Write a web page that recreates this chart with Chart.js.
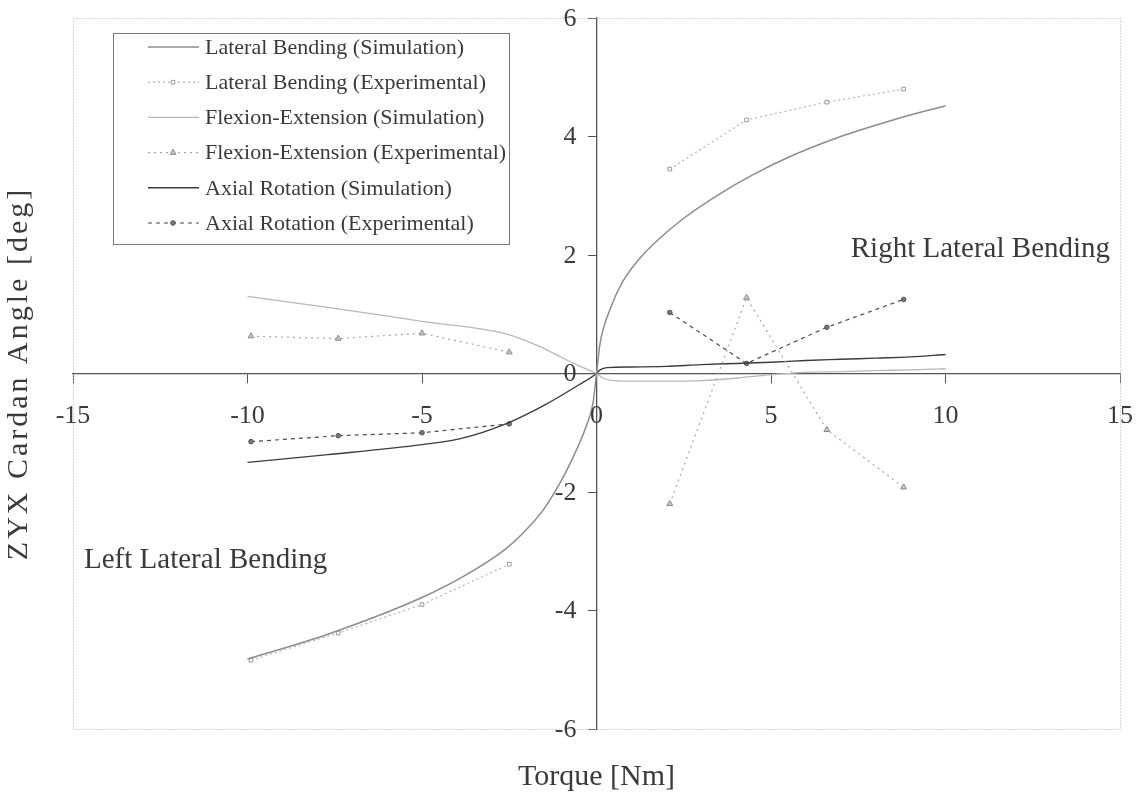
<!DOCTYPE html>
<html>
<head>
<meta charset="utf-8">
<title>ZYX Cardan Angle vs Torque</title>
<script src="https://cdn.jsdelivr.net/npm/chart.js@4.4.1/dist/chart.umd.min.js"></script>
<style>
  html, body { margin: 0; padding: 0; background: #ffffff; }
  #wrap { width: 1139px; height: 801px; position: relative; }
</style>
</head>
<body>
<div id="wrap"><canvas id="c" width="1139" height="801"></canvas></div>
<script>
// ---- Simulation curves (torque in Nm, angle in deg) ----
const lbSimTorque = [-10, -7.7, -5, -3.8, -2.6, -2.0, -1.5, -1.0, -0.7, -0.3, -0.1, 0, 0.1, 0.4, 0.75, 1.25, 1.75, 2.5, 3.5, 4.5, 5.5, 7, 8.5, 10];
const lbSimAngle  = [-4.82, -4.4, -3.78, -3.42, -2.96, -2.63, -2.28, -1.8, -1.45, -0.9, -0.5, 0, 0.5, 1.1, 1.55, 1.95, 2.25, 2.62, 3.02, 3.36, 3.65, 4.0, 4.28, 4.52];

const feSimTorque = [-10, -7.5, -5, -2.6, -1.6, -1, -0.5, 0, 0.2, 0.5, 1, 2, 3, 4, 5, 6, 7, 8, 9, 10];
const feSimAngle  = [1.3, 1.1, 0.88, 0.67, 0.45, 0.27, 0.13, 0, -0.08, -0.12, -0.13, -0.13, -0.12, -0.08, -0.02, 0.02, 0.03, 0.05, 0.06, 0.08];

const arSimTorque = [-10, -7.7, -5, -3.9, -2.6, -1.45, -0.5, 0, 0.1, 0.3, 1, 2, 3, 4, 5, 6, 7, 8, 9, 10];
const arSimAngle  = [-1.5, -1.37, -1.2, -1.1, -0.85, -0.52, -0.19, 0, 0.06, 0.1, 0.11, 0.12, 0.15, 0.17, 0.19, 0.22, 0.24, 0.26, 0.28, 0.32];

// ---- Experimental measurements (left / right loading) ----
const expTorqueNeg = [-9.9, -7.4, -5.0, -2.5];
const expTorquePos = [2.1, 4.3, 6.6, 8.8];

const lbExpNeg = [-4.84, -4.38, -3.9, -3.22];
const lbExpPos = [3.45, 4.28, 4.58, 4.80];

const feExpNeg = [0.63, 0.59, 0.68, 0.36];
const feExpPos = [-2.2, 1.28, -0.95, -1.92];

const arExpNeg = [-1.15, -1.05, -1.0, -0.85];
const arExpPos = [1.03, 0.17, 0.78, 1.25];

// ---- Axis ticks ----
const torqueTicks = [-15, -10, -5, 0, 5, 10, 15];
const angleTicks  = [-6, -4, -2, 0, 2, 4, 6];

const seriesNames = [
  'Lateral Bending (Simulation)',
  'Lateral Bending (Experimental)',
  'Flexion-Extension (Simulation)',
  'Flexion-Extension (Experimental)',
  'Axial Rotation (Simulation)',
  'Axial Rotation (Experimental)'
];

const SERIF = '"Liberation Serif", "Times New Roman", serif';
const TEXT_COLOR = '#3a3a3a';

function pts(xs, ys) { return xs.map((x, i) => ({ x: x, y: ys[i] })); }
function expPts(neg, pos) {
  // the two loading directions are drawn as separate segments
  return pts(expTorqueNeg, neg).concat([{ x: 0, y: null }], pts(expTorquePos, pos));
}

const simStyle = (color, width) => ({
  showLine: true, borderColor: color, backgroundColor: color, borderWidth: width,
  pointRadius: 0, pointHoverRadius: 0, cubicInterpolationMode: 'monotone', fill: false
});

const datasets = [
  Object.assign({ label: seriesNames[0], data: pts(lbSimTorque, lbSimAngle) }, simStyle('#8c8c8c', 1.5)),
  { label: seriesNames[1], data: expPts(lbExpNeg, lbExpPos), showLine: true, spanGaps: false,
    borderColor: '#b4b4b4', borderWidth: 1.2, borderDash: [2, 3],
    pointStyle: 'rect', pointRadius: 2.6, pointBorderColor: '#9a9a9a', pointBackgroundColor: '#ffffff', pointBorderWidth: 1 },
  Object.assign({ label: seriesNames[2], data: pts(feSimTorque, feSimAngle) }, simStyle('#b8b8b8', 1.3)),
  { label: seriesNames[3], data: expPts(feExpNeg, feExpPos), showLine: true, spanGaps: false,
    borderColor: '#a8a8a8', borderWidth: 1.2, borderDash: [2, 4],
    pointStyle: 'triangle', pointRadius: 3.4, pointBorderColor: '#8a8a8a', pointBackgroundColor: '#c8c8c8', pointBorderWidth: 1 },
  Object.assign({ label: seriesNames[4], data: pts(arSimTorque, arSimAngle) }, simStyle('#3c3c3c', 1.4)),
  { label: seriesNames[5], data: expPts(arExpNeg, arExpPos), showLine: true, spanGaps: false,
    borderColor: '#4a4a4a', borderWidth: 1.2, borderDash: [4, 4],
    pointStyle: 'circle', pointRadius: 2.3, pointBorderColor: '#555555', pointBackgroundColor: '#777777', pointBorderWidth: 1 }
];

// Dotted frame around the plot area
const framePlugin = {
  id: 'frame',
  beforeDatasetsDraw(chart) {
    const a = chart.chartArea, ctx = chart.ctx;
    ctx.save();
    ctx.strokeStyle = '#b0b0b0';
    ctx.lineWidth = 1;
    ctx.setLineDash([1, 2]);
    ctx.strokeRect(a.left + 0.5, a.top + 0.5, a.right - a.left, a.bottom - a.top);
    ctx.restore();
  }
};

// Tick labels, axis titles, region notes and the boxed legend
const textPlugin = {
  id: 'texts',
  afterDraw(chart) {
    const ctx = chart.ctx, xs = chart.scales.x, ys = chart.scales.y, a = chart.chartArea;
    const x0 = xs.getPixelForValue(0), y0 = ys.getPixelForValue(0);
    ctx.save();
    ctx.fillStyle = TEXT_COLOR;
    ctx.font = '26px ' + SERIF;

    // x tick labels below the horizontal axis
    ctx.textAlign = 'center';
    ctx.textBaseline = 'middle';
    torqueTicks.forEach(v => ctx.fillText(String(v), xs.getPixelForValue(v), y0 + 43));

    // y tick labels left of the vertical axis
    ctx.textAlign = 'right';
    angleTicks.forEach(v => ctx.fillText(String(v), x0 - 20, ys.getPixelForValue(v) + 1));

    // axis titles
    ctx.font = '30px ' + SERIF;
    ctx.textAlign = 'center';
    ctx.fillText('Torque [Nm]', (a.left + a.right) / 2, 777);
    ctx.save();
    ctx.translate(19, (a.top + a.bottom) / 2);
    ctx.rotate(-Math.PI / 2);
    if ('letterSpacing' in ctx) ctx.letterSpacing = '3px';
    ctx.fillText('ZYX Cardan Angle [deg]', 0, 0);
    ctx.restore();

    // region notes
    ctx.font = '29px ' + SERIF;
    ctx.fillText('Right Lateral Bending', xs.getPixelForValue(11.0), ys.getPixelForValue(2.1));
    ctx.fillText('Left Lateral Bending', xs.getPixelForValue(-11.2), ys.getPixelForValue(-3.15));

    // legend
    const bx = 113, by = 33, bw = 396, bh = 211;
    ctx.fillStyle = '#ffffff';
    ctx.fillRect(bx, by, bw, bh);
    ctx.strokeStyle = '#7a7a7a';
    ctx.lineWidth = 1;
    ctx.setLineDash([]);
    ctx.strokeRect(bx + 0.5, by + 0.5, bw, bh);

    chart.data.datasets.forEach((ds, i) => {
      const ry = 47 + i * 35.2;
      ctx.save();
      ctx.strokeStyle = ds.borderColor;
      ctx.lineWidth = ds.borderWidth;
      ctx.setLineDash(ds.borderDash || []);
      ctx.beginPath();
      ctx.moveTo(148, ry);
      ctx.lineTo(199, ry);
      ctx.stroke();
      ctx.setLineDash([]);
      if (ds.pointRadius > 0) {
        ctx.fillStyle = ds.pointBackgroundColor;
        ctx.strokeStyle = ds.pointBorderColor;
        ctx.lineWidth = ds.pointBorderWidth;
        Chart.helpers.drawPoint(ctx, { pointStyle: ds.pointStyle, radius: ds.pointRadius, rotation: 0, borderWidth: ds.pointBorderWidth }, 173, ry);
      }
      ctx.restore();
      ctx.fillStyle = TEXT_COLOR;
      ctx.font = '22px ' + SERIF;
      ctx.textAlign = 'left';
      ctx.textBaseline = 'middle';
      ctx.fillText(ds.label, 205, ry + 1);
    });
    ctx.restore();
  }
};

new Chart(document.getElementById('c'), {
  type: 'scatter',
  data: { datasets: datasets },
  options: {
    responsive: false,
    devicePixelRatio: 1,
    animation: false,
    layout: { padding: { left: 73, top: 18, right: 19, bottom: 72 } },
    plugins: { legend: { display: false }, tooltip: { enabled: false }, title: { display: false } },
    scales: {
      x: {
        type: 'linear', min: -15, max: 15, position: { y: 0 },
        ticks: { display: false, stepSize: 5 },
        grid: { display: true, drawOnChartArea: false, drawTicks: true, tickLength: 9, color: '#555555', tickWidth: 1 },
        border: { display: true, color: '#555555', width: 1.3 }
      },
      y: {
        type: 'linear', min: -6, max: 6, position: { x: 0 },
        ticks: { display: false, stepSize: 2 },
        grid: { display: true, drawOnChartArea: false, drawTicks: true, tickLength: 8, color: '#555555', tickWidth: 1 },
        border: { display: true, color: '#555555', width: 1.3 }
      }
    }
  },
  plugins: [framePlugin, textPlugin]
});
</script>
</body>
</html>
